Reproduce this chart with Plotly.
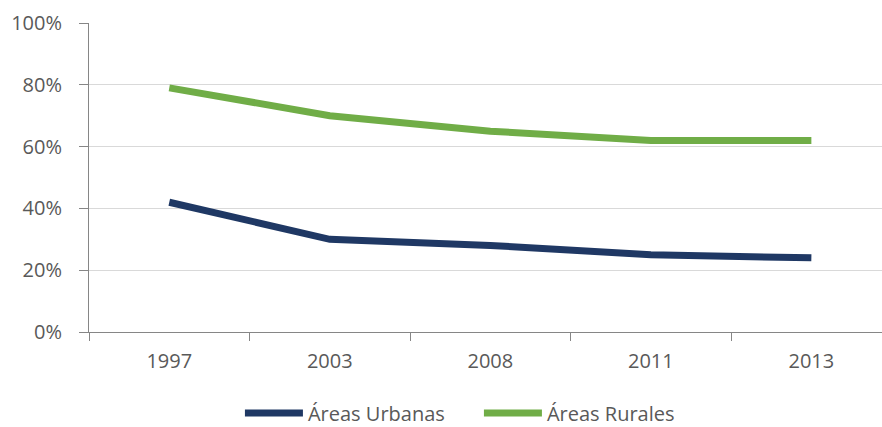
import plotly.graph_objects as go

years = ["1997", "2003", "2008", "2011", "2013"]
urbanas = [0.42, 0.30, 0.28, 0.25, 0.24]
rurales = [0.79, 0.70, 0.65, 0.62, 0.62]
y_ticks = [0, 0.2, 0.4, 0.6, 0.8, 1.0]
y_labels = ["0%", "20%", "40%", "60%", "80%", "100%"]

font = "Open Sans, Liberation Sans, sans-serif"
gray = "#595959"

fig = go.Figure()
fig.add_trace(go.Scatter(x=years, y=urbanas, mode="lines", name="Áreas Urbanas",
                         line=dict(color="#1F3864", width=7)))
fig.add_trace(go.Scatter(x=years, y=rurales, mode="lines", name="Áreas Rurales",
                         line=dict(color="#70AD47", width=7)))

fig.update_layout(
    width=882, height=427,
    margin=dict(l=89, r=0, t=23, b=95, autoexpand=False),
    paper_bgcolor="white", plot_bgcolor="white",
    font=dict(family=font, size=20, color=gray),
    showlegend=True,
    legend=dict(orientation="h", x=0.543, xanchor="center", xref="container",
                y=0.033, yanchor="middle", yref="container",
                font=dict(size=20, color=gray), itemwidth=58, entrywidth=166,
                entrywidthmode="pixels"),
    xaxis=dict(type="category", range=[-0.5, 4.44], tickson="boundaries",
               ticks="outside", ticklen=8, tickcolor="#868686",
               showline=True, linecolor="#868686", linewidth=1,
               showgrid=False, zeroline=False, ticklabelstandoff=11),
    yaxis=dict(range=[0, 1], tickvals=y_ticks, ticktext=y_labels,
               ticks="outside", ticklen=9, tickcolor="#868686",
               showline=True, linecolor="#868686", linewidth=1,
               showgrid=True, gridcolor="#D9D9D9", gridwidth=1,
               zeroline=False, ticklabelstandoff=13),
)

fig.write_html("out.html")
